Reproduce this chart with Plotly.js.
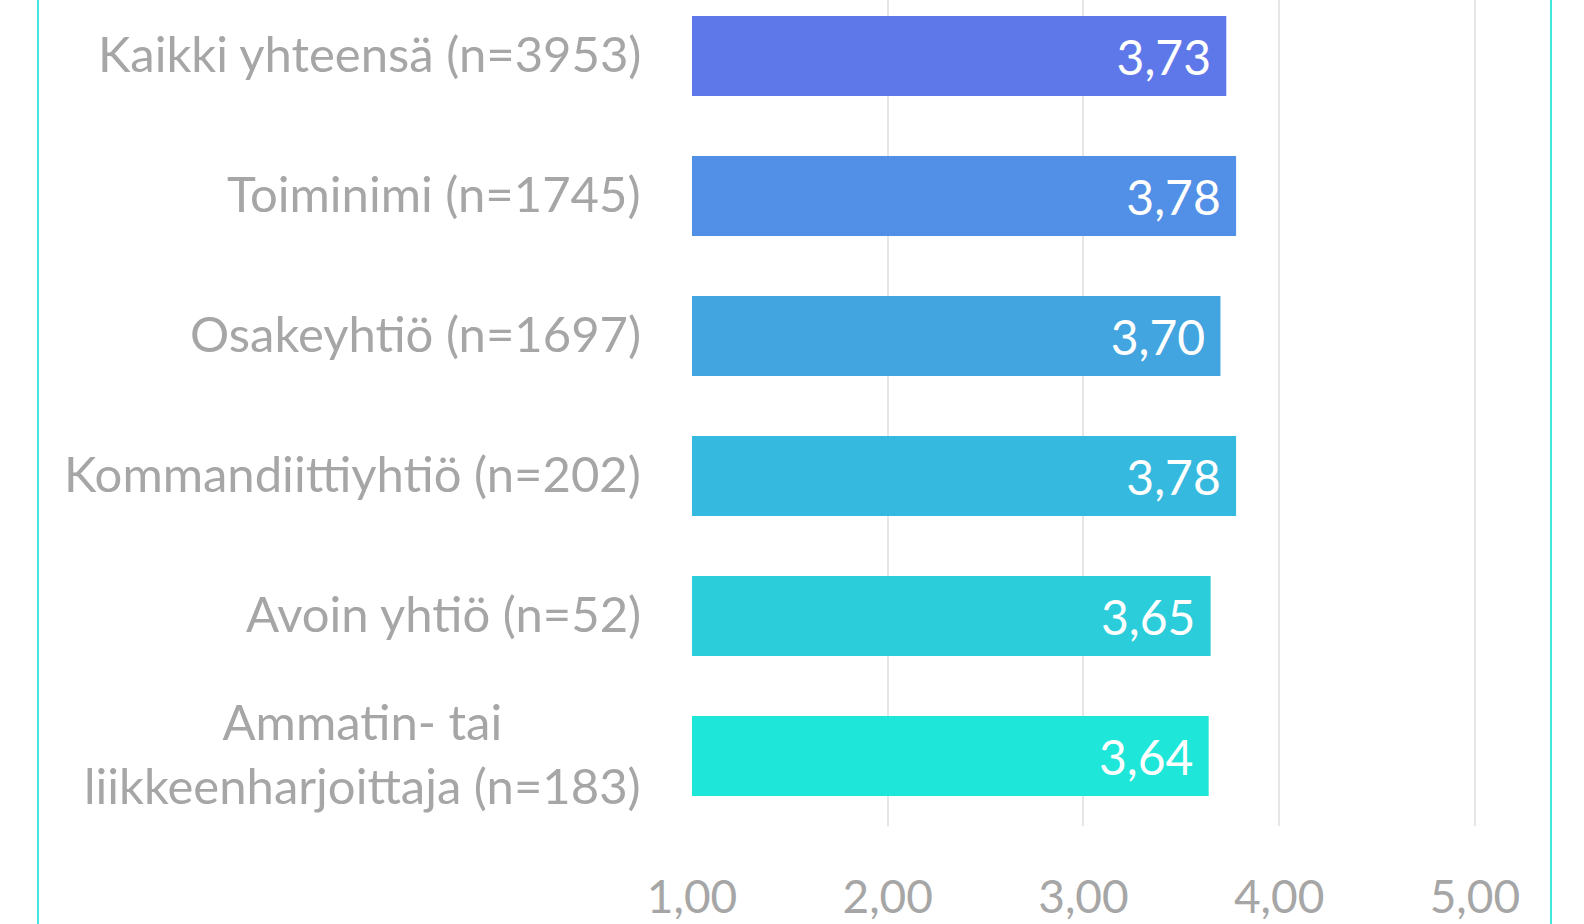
<!DOCTYPE html>
<html>
<head>
<meta charset="utf-8">
<script src="https://cdn.plot.ly/plotly-3.0.1.min.js"></script>
<style>
html,body{margin:0;padding:0;background:#fff;}
#chart{width:1584px;height:924px;}
</style>
</head>
<body>
<div id="chart"></div>
<script>
var categories = [
  "Kaikki yhteensä (n=3953)",
  "Toiminimi (n=1745)",
  "Osakeyhtiö (n=1697)",
  "Kommandiittiyhtiö (n=202)",
  "Avoin yhtiö (n=52)",
  "Ammatin- tai<br>liikkeenharjoittaja (n=183)"
];
var values = [3.73, 3.78, 3.70, 3.78, 3.65, 3.64];
var barColors = ["#5E78EA", "#5190E6", "#43A5E0", "#36B9DE", "#2BCDDB", "#1EE6D8"];
var tickValues = [1, 2, 3, 4, 5];

var FONT = "Lato, 'Open Sans', sans-serif";
var GRAY = "#A6A6A6";

var trace = {
  type: "bar",
  orientation: "h",
  y: categories.map(function(c, i){ return i; }),
  x: values,
  marker: {color: barColors},
  texttemplate: "%{x:.2f}\u00A0",
  textposition: "inside",
  insidetextanchor: "end",
  insidetextfont: {family: FONT, size: 48, color: "#FFFFFF"},
  textangle: 0,
  constraintext: "none",
  hoverinfo: "skip",
  cliponaxis: true
};

var annotations = categories.map(function(c, i){
  return {
    xref: "paper", yref: "y",
    x: 0, y: i,
    xanchor: "right", yanchor: "middle",
    xshift: -49,
    yshift: 3,
    align: "center",
    showarrow: false,
    text: c,
    font: {family: FONT, size: 49, color: GRAY}
  };
});

var layout = {
  width: 1584, height: 924,
  margin: {l: 692, r: 70, t: 0, b: 98},
  paper_bgcolor: "#FFFFFF",
  plot_bgcolor: "#FFFFFF",
  separators: ", ",
  showlegend: false,
  bargap: 0.43,
  xaxis: {
    range: [1, 5.2],
    tickvals: tickValues,
    tickformat: ".2f",
    showgrid: true,
    gridcolor: "#E6E6E6",
    gridwidth: 2,
    zeroline: false,
    showline: false,
    ticks: "",
    ticklabelstandoff: 40,
    tickfont: {family: FONT, size: 46, color: GRAY}
  },
  yaxis: {
    range: [5.5, -0.4],
    showticklabels: false,
    showgrid: false,
    zeroline: false,
    showline: false,
    ticks: ""
  },
  annotations: annotations,
  shapes: [
    {type: "line", xref: "paper", yref: "paper", x0: (38-692)/822, x1: (38-692)/822, y0: -0.2, y1: 1.2,
     line: {color: "#40E8DC", width: 2}},
    {type: "line", xref: "paper", yref: "paper", x0: (1551-692)/822, x1: (1551-692)/822, y0: -0.2, y1: 1.2,
     line: {color: "#40E8DC", width: 2}}
  ]
};

Plotly.newPlot("chart", [trace], layout, {displayModeBar: false, staticPlot: true});
</script>
</body>
</html>
